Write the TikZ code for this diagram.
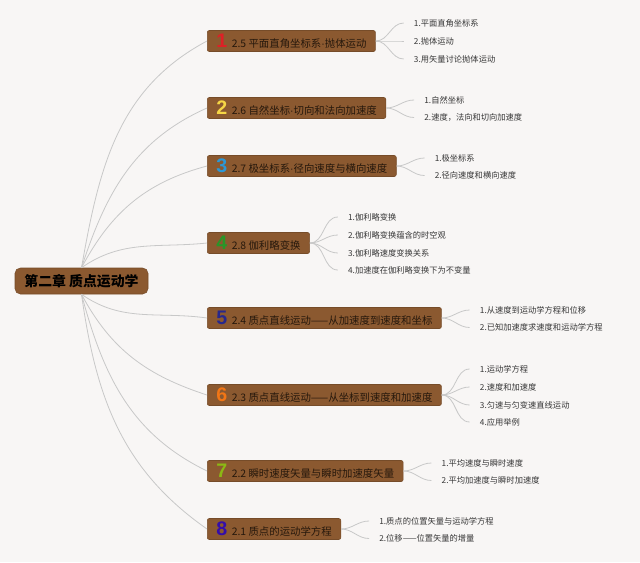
\documentclass[tikz,border=0pt]{standalone}
\usepackage{fontspec}
\setmainfont{Noto Sans CJK SC}
\newfontfamily\numfont{Liberation Sans}
\usetikzlibrary{calc}
\definecolor{paper}{RGB}{248,246,245}
\definecolor{chapbrown}{RGB}{139,89,48}
\definecolor{boxink}{RGB}{38,24,12}
\definecolor{itemink}{RGB}{55,55,55}
\definecolor{linkg}{RGB}{200,200,200}
\definecolor{num1}{RGB}{222,32,38}
\definecolor{num2}{RGB}{246,214,70}
\definecolor{num3}{RGB}{44,152,214}
\definecolor{num4}{RGB}{40,150,40}
\definecolor{num5}{RGB}{40,40,140}
\definecolor{num6}{RGB}{242,118,22}
\definecolor{num7}{RGB}{140,184,20}
\definecolor{num8}{RGB}{52,14,170}
\newcommand{\mdot}{{\numfont\textperiodcentered}}

\begin{document}
\begin{tikzpicture}[x=0.75pt, y=0.75pt,
  secbox/.style={fill=chapbrown, draw=chapbrown!85!black, line width=0.4pt, rounded corners=1.5pt,
    anchor=west, inner xsep=6.75pt, inner ysep=0pt, minimum height=15.75pt, text=boxink,
    font=\fontsize{7.8}{10}\selectfont},
  subitem/.style={anchor=west, inner xsep=7.5pt, inner ysep=1pt, text=itemink,
    font=\fontsize{6.2}{8}\selectfont},
  link/.style={linkg, line width=0.6pt}]
% canvas: 640 x 562 px, y taken negative downwards
\fill[paper] (0,0) rectangle (640,-562);
\useasboundingbox (0,0) rectangle (640,-562);

% ---- root ----
\node[fill=chapbrown, draw=chapbrown!85!black, rounded corners=4pt, minimum width=99.75pt,
  minimum height=19.5pt, inner sep=0pt, font=\fontsize{10.4}{12}\bfseries\selectfont] (root)
  at (81.5,-281) {第二章 质点运动学};

% ---- sections: number/y/title ----
\foreach \s/\y/\ttl in {1/41/2.5 平面直角坐标系\mdot 抛体运动,
                        2/108/2.6 自然坐标\mdot 切向和法向加速度,
                        3/166/2.7 极坐标系\mdot 径向速度与横向速度,
                        4/243/2.8 伽利略变换,
                        5/318/2.4 质点直线运动——从加速度到速度和坐标,
                        6/395/2.3 质点直线运动——从坐标到速度和加速度,
                        7/471/2.2 瞬时速度矢量与瞬时加速度矢量,
                        8/529/2.1 质点的运动学方程}{
  \node[secbox] (s\s) at (207,-\y)
    {\textcolor{num\s}{\numfont\bfseries\fontsize{14.7}{15}\selectfont \s}\hspace{3.5pt}\ttl};
}

% ---- root links (out/in angles) ----
\foreach \s/\o/\i in {1/80/208, 2/72/204, 3/62/195, 4/35/186}{
  \draw[link] (root.north) to[out=\o, in=\i] (s\s.west);
}
\foreach \s/\o/\i in {5/-35/172, 6/-62/162, 7/-75/154, 8/-82/145}{
  \draw[link] (root.south) to[out=\o, in=\i] (s\s.west);
}

% ---- sub items: section/index/offset/text ----
\foreach \s/\k/\dy/\txt in {1/1/18/1.平面直角坐标系, 1/2/0/2.抛体运动, 1/3/-18/3.用矢量讨论抛体运动,
                            2/1/8/1.自然坐标, 2/2/-9.5/2.速度，法向和切向加速度,
                            3/1/8/1.极坐标系, 3/2/-9.5/2.径向速度和横向速度,
                            4/1/26/1.伽利略变换, 4/2/8/2.伽利略变换蕴含的时空观,
                            4/3/-10/3.伽利略速度变换关系, 4/4/-27/4.加速度在伽利略变换下为不变量,
                            5/1/8/1.从速度到运动学方程和位移, 5/2/-9.5/2.已知加速度求速度和运动学方程,
                            6/1/26/1.运动学方程, 6/2/8/2.速度和加速度,
                            6/3/-10/3.匀速与匀变速直线运动, 6/4/-27/4.应用举例,
                            7/1/8/1.平均速度与瞬时速度, 7/2/-9.5/2.平均加速度与瞬时加速度,
                            8/1/8/1.质点的位置矢量与运动学方程, 8/2/-9.5/2.位移——位置矢量的增量}{
  \node[subitem] (s\s i\k) at ($(s\s.east)+(28,\dy)$) {\txt};
  \draw[link] (s\s.east) to[out=0, in=180] (s\s i\k.west);
}
\end{tikzpicture}
\end{document}
